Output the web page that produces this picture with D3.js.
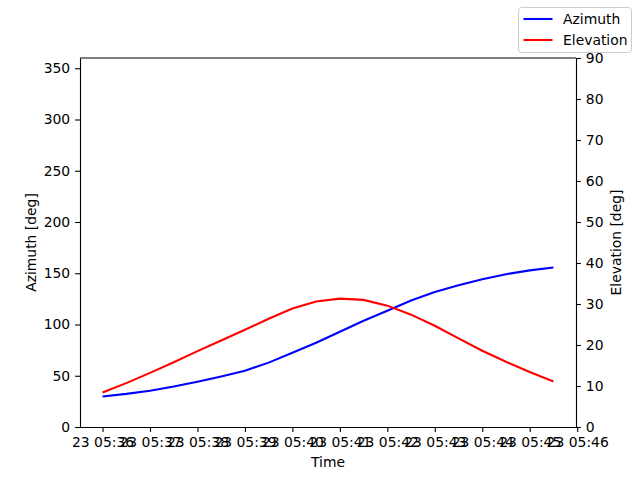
<!DOCTYPE html>
<html>
<head>
<meta charset="utf-8">
<script src="https://cdnjs.cloudflare.com/ajax/libs/d3/7.8.5/d3.min.js"></script>
<style>
  body { margin: 0; background: #fff; }
  text { font-family: "DejaVu Sans", sans-serif; }
</style>
</head>
<body>
<script>

// samples every 30 s
var times = ["05:36:00","05:36:30","05:37:00","05:37:30","05:38:00","05:38:30","05:39:00","05:39:30",
             "05:40:00","05:40:30","05:41:00","05:41:30","05:42:00","05:42:30","05:43:00","05:43:30",
             "05:44:00","05:44:30","05:45:00","05:45:30"]
var azimuth = [29.8, 32.3, 35.4, 39.5, 44.2, 49.3, 54.9, 62.8, 72.5, 82.2,
               93.0, 103.7, 113.5, 123.4, 131.8, 138.4, 144.2, 149.1, 152.8, 155.6]
var elevation = [8.4, 10.7, 13.2, 15.8, 18.5, 21.1, 23.7, 26.4, 28.9, 30.6,
                 31.3, 31.0, 29.6, 27.4, 24.7, 21.6, 18.6, 15.9, 13.4, 11.1]
var azTicks = [0, 50, 100, 150, 200, 250, 300, 350]
var elTicks = [0, 10, 20, 30, 40, 50, 60, 70, 80, 90]

var day = "2024-05-23T"
var parse = d3.utcParse("%Y-%m-%dT%H:%M:%S")
var dates = times.map(function(t){ return parse(day + t) })

var W = 640, H = 480
var margin = {top: 58, right: 64, bottom: 53, left: 80}
var fs = 13.9

var svg = d3.select("body").append("svg")
    .attr("width", W)
    .attr("height", H)

// matplotlib-like 5% padding on time axis
var t0 = dates[0], t1 = dates[dates.length - 1]
var pad = (t1 - t0) * 0.05
var x = d3.scaleUtc()
    .domain([new Date(+t0 - pad), new Date(+t1 + pad)])
    .range([margin.left, W - margin.right])

var yAz = d3.scaleLinear().domain([0, 360]).range([H - margin.bottom, margin.top])
var yEl = d3.scaleLinear().domain([0, 90]).range([H - margin.bottom, margin.top])

var minuteTicks = d3.utcMinute.range(parse(day + "05:36:00"), parse(day + "05:46:01"))

function styleAxis(g) {
    g.selectAll("path").attr("stroke", "#000").attr("stroke-width", 1.1)
    g.selectAll("line").attr("stroke", "#000").attr("stroke-width", 1.1)
    g.selectAll("text").attr("font-size", fs).attr("fill", "#000")
        .style("font-family", "DejaVu Sans")
}

// x axis
svg.append("g")
    .attr("transform", "translate(0," + (H - margin.bottom) + ")")
    .call(d3.axisBottom(x).tickValues(minuteTicks).tickFormat(d3.utcFormat("%d %H:%M"))
        .tickSize(4.9).tickPadding(4.9).tickSizeOuter(0))
    .call(styleAxis)

// left axis
svg.append("g")
    .attr("transform", "translate(" + margin.left + ",0)")
    .call(d3.axisLeft(yAz).tickValues(azTicks).tickSize(4.9).tickPadding(4.9).tickSizeOuter(0))
    .call(styleAxis)

// right axis
svg.append("g")
    .attr("transform", "translate(" + (W - margin.right) + ",0)")
    .call(d3.axisRight(yEl).tickValues(elTicks).tickSize(4.9).tickPadding(4.9).tickSizeOuter(0))
    .call(styleAxis)

// top spine
svg.append("line")
    .attr("x1", margin.left).attr("x2", W - margin.right)
    .attr("y1", margin.top).attr("y2", margin.top)
    .attr("stroke", "#000").attr("stroke-width", 1.1)

// lines
var azLine = d3.line()
    .x(function(d, i){ return x(dates[i]) })
    .y(function(d){ return yAz(d) })
var elLine = d3.line()
    .x(function(d, i){ return x(dates[i]) })
    .y(function(d){ return yEl(d) })

svg.append("path").datum(azimuth)
    .attr("d", azLine).attr("fill", "none")
    .attr("stroke", "#0000ff").attr("stroke-width", 2.1)
svg.append("path").datum(elevation)
    .attr("d", elLine).attr("fill", "none")
    .attr("stroke", "#ff0000").attr("stroke-width", 2.1)

// axis labels
svg.append("text")
    .attr("x", (margin.left + W - margin.right) / 2).attr("y", 467)
    .attr("text-anchor", "middle").attr("font-size", fs)
    .text("Time")
svg.append("text")
    .attr("transform", "translate(36," + ((margin.top + H - margin.bottom) / 2) + ") rotate(-90)")
    .attr("text-anchor", "middle").attr("font-size", fs)
    .text("Azimuth [deg]")
svg.append("text")
    .attr("transform", "translate(621," + ((margin.top + H - margin.bottom) / 2) + ") rotate(-90)")
    .attr("text-anchor", "middle").attr("font-size", fs)
    .text("Elevation [deg]")

// legend
var legend = svg.append("g")
legend.append("rect")
    .attr("x", 518.5).attr("y", 7.5).attr("width", 113).attr("height", 45)
    .attr("rx", 3).attr("fill", "#fff").attr("fill-opacity", 0.8)
    .attr("stroke", "#ccc").attr("stroke-width", 1)
var items = [{name: "Azimuth", color: "#0000ff"}, {name: "Elevation", color: "#ff0000"}]
items.forEach(function(it, i){
    var yy = 19 + i * 21
    legend.append("line")
        .attr("x1", 523.5).attr("x2", 552.5).attr("y1", yy).attr("y2", yy)
        .attr("stroke", it.color).attr("stroke-width", 2.1)
    legend.append("text")
        .attr("x", 563).attr("y", yy + 5).attr("font-size", fs)
        .text(it.name)
})

</script>
</body>
</html>
